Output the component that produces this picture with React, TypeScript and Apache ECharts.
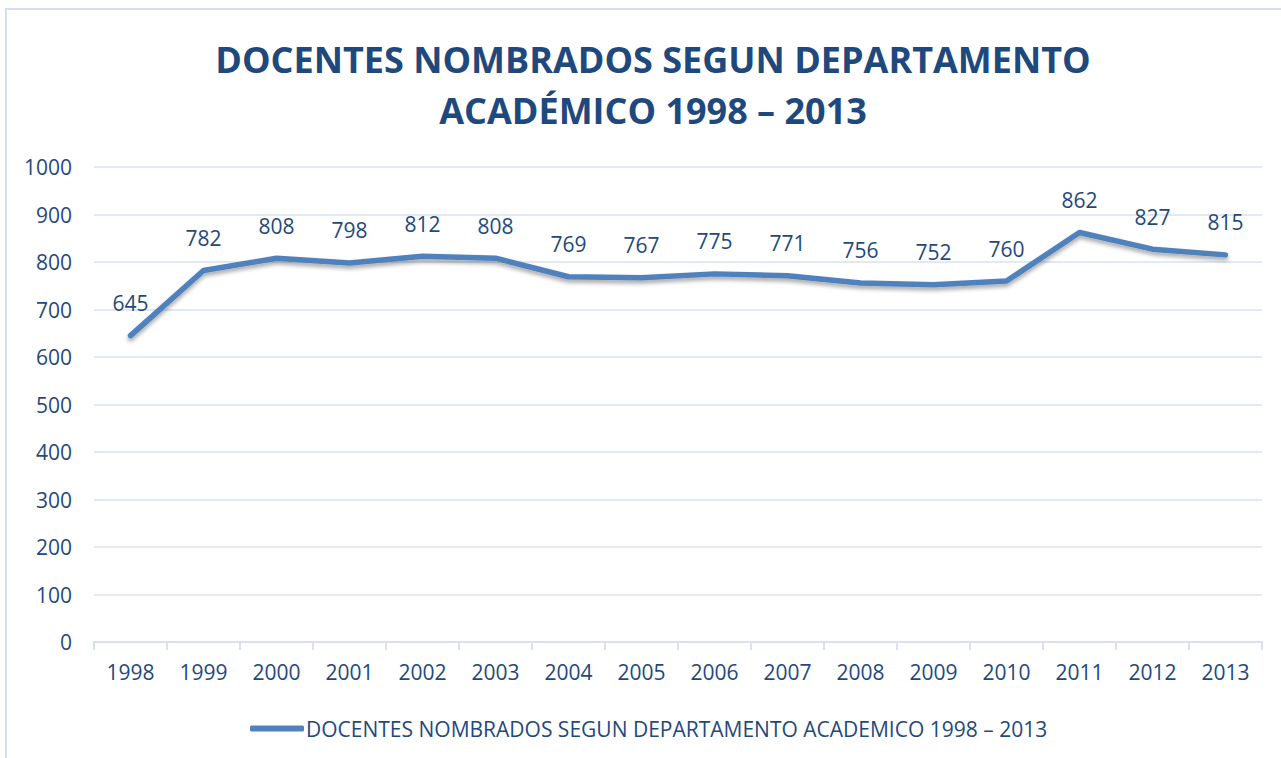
import React, { useEffect, useRef } from "react";
import * as echarts from "echarts";

const years = ["1998","1999","2000","2001","2002","2003","2004","2005","2006","2007","2008","2009","2010","2011","2012","2013"];
const docentes = [645, 782, 808, 798, 812, 808, 769, 767, 775, 771, 756, 752, 760, 862, 827, 815];
const seriesName = "DOCENTES NOMBRADOS SEGUN DEPARTAMENTO ACADEMICO 1998 – 2013";
const titleText = "DOCENTES NOMBRADOS SEGUN DEPARTAMENTO\nACADÉMICO 1998 – 2013";

const FONT = "Open Sans";
const TEXT = "#1F497D";
const GRID = "#D6E2F2";
const LINE = "#4F81BD";

export default function App() {
  const ref = useRef<HTMLDivElement>(null);
  useEffect(() => {
    const chart = echarts.init(ref.current!, null, { renderer: "svg" });
    chart.setOption({
      animation: false,
      backgroundColor: "#fff",
      graphic: [
        { type: "rect", shape: { x: 6, y: 9, width: 1290, height: 760 }, style: { fill: "none", stroke: "#D3E0F0", lineWidth: 2 }, silent: true },
      ],
      title: {
        text: titleText,
        left: 648,
        textAlign: "center",
        top: 29,
        textStyle: { fontFamily: FONT, fontSize: 36, fontWeight: "bold", color: TEXT, lineHeight: 51 },
      },
      legend: {
        bottom: 14,
        left: 245,
        icon: "roundRect",
        itemWidth: 54,
        itemHeight: 6,
        itemGap: 5,
        itemStyle: { color: LINE, opacity: 1 },
        textStyle: { fontFamily: FONT, fontSize: 21, color: TEXT, padding: [0, 0, 0, -3] },
      },
      grid: { left: 94, right: 19, top: 167, bottom: 116 },
      xAxis: {
        type: "category",
        data: years,
        boundaryGap: true,
        axisLine: { lineStyle: { color: GRID, width: 2 } },
        axisTick: { show: true, length: 8, lineStyle: { color: GRID, width: 2 } },
        axisLabel: { fontFamily: FONT, fontSize: 21, color: TEXT, margin: 19 },
      },
      yAxis: {
        type: "value",
        min: 0,
        max: 1000,
        interval: 100,
        axisLine: { show: false },
        axisTick: { show: false },
        splitLine: { lineStyle: { color: GRID, width: 1.5 } },
        axisLabel: { fontFamily: FONT, fontSize: 21, color: TEXT, margin: 22, formatter: (v: number) => String(v) },
      },
      series: [
        {
          name: seriesName,
          type: "line",
          data: docentes,
          symbol: "circle",
          symbolSize: 0,
          showSymbol: true,
          itemStyle: { color: LINE },
          lineStyle: {
            width: 5.5,
            color: LINE,
            cap: "round",
            join: "round",
            shadowColor: "rgba(0,0,0,0.35)",
            shadowBlur: 4,
            shadowOffsetY: 3,
          },
          label: {
            show: true,
            position: "top",
            distance: 22,
            fontFamily: FONT,
            fontSize: 21,
            color: TEXT,
          },
        },
      ],
    });
    return () => chart.dispose();
  }, []);
  return <div ref={ref} style={{ position: "fixed", left: 0, top: 0, width: 1281, height: 758 }} />;
}
